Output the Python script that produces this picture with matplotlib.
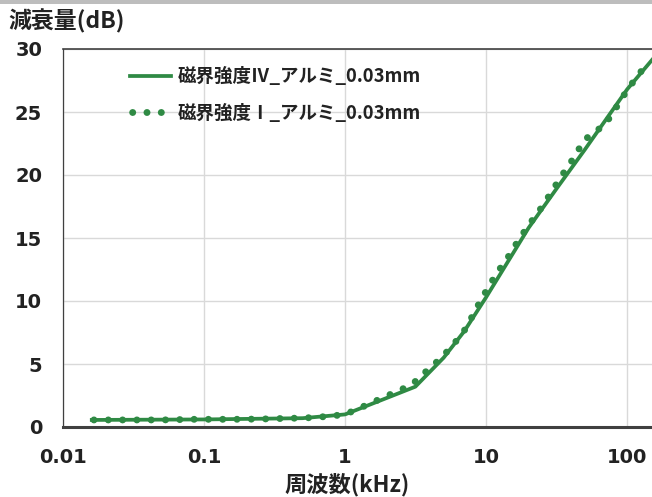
import matplotlib
matplotlib.use("Agg")
import matplotlib.pyplot as plt
from matplotlib.patches import Rectangle

# data
freq_iv = [0.016, 0.1, 0.5, 1.0, 3.15, 5.0, 7.0, 10.0, 20.0, 31.5, 50.0, 100.0, 160.0]
att_iv = [0.56, 0.6, 0.7, 1.0, 3.2, 5.5, 7.6, 10.3, 15.8, 18.9, 22.0, 26.8, 29.5]

freq_i = [0.016, 0.02, 0.025, 0.032, 0.04, 0.05, 0.063, 0.08, 0.1, 0.125, 0.16, 0.2,
          0.25, 0.315, 0.4, 0.5, 0.63, 0.8, 1.0, 1.26, 1.55, 1.92, 2.4, 2.97, 3.56,
          4.23, 4.98, 5.8, 6.76, 7.62, 8.49, 9.48, 10.7, 12.1, 13.9, 15.6, 17.7, 20.1,
          23.3, 26.5, 30.0, 34.0, 38.8, 44.0, 49.5, 60.0, 71.0, 81.0, 91.7, 104.0,
          120.0, 138.0]
att_i = [0.56, 0.56, 0.56, 0.56, 0.56, 0.56, 0.58, 0.61, 0.61, 0.61, 0.61, 0.62,
         0.63, 0.66, 0.69, 0.71, 0.77, 0.87, 1.0, 1.48, 1.93, 2.40, 2.88, 3.35, 4.18,
         4.92, 5.66, 6.51, 7.36, 8.36, 9.37, 10.34, 11.35, 12.33, 13.25, 14.18, 15.13,
         16.05, 17.0, 17.94, 18.9, 19.87, 20.8, 21.77, 22.78, 23.44, 24.15, 25.1, 26.09,
         27.0, 27.94, 28.8]

label_iv = "磁界強度Ⅳ_アルミ_0.03mm"
label_i = "磁界強度Ⅰ_アルミ_0.03mm"
x_ticks = [0.01, 0.1, 1, 10, 100]
x_ticklabels = ["0.01", "0.1", "1", "10", "100"]
y_ticks = [0, 5, 10, 15, 20, 25, 30]

green = "#2f8a44"
cjk = ["Noto Sans CJK JP", "DejaVu Sans"]

fig = plt.figure(figsize=(6.52, 4.97), dpi=100)
fig.patches.append(Rectangle((0, 1 - 4 / 497), 1, 4 / 497, transform=fig.transFigure,
                             facecolor="#bdbdbd", edgecolor="none"))
ax = fig.add_axes([63 / 652, 1 - 427 / 497, 1 - 63 / 652, (427 - 49) / 497])

ax.plot(freq_iv, att_iv, color=green, lw=2.7, label=label_iv, zorder=3)
# round-dot line; offset puts the first dot a little in from the start
ax.plot(freq_i, att_i, color=green, lw=5.0, linestyle=(1.75, (0.01, 2.05)),
        dash_capstyle="round", label=label_i, zorder=4)

ax.set_xscale("log")
ax.set_xlim(0.01, 150)
ax.set_ylim(0, 30)
ax.set_xticks(x_ticks)
ax.set_xticklabels(x_ticklabels)
ax.minorticks_off()
ax.set_yticks(y_ticks)
ax.tick_params(length=0, labelsize=14, pad=15)
for t in ax.get_xticklabels() + ax.get_yticklabels():
    t.set_fontweight("bold")
    t.set_color("#222222")

ax.grid(True, color="#d9d9d9", lw=1.0)
ax.set_axisbelow(True)
ax.spines["right"].set_visible(False)
ax.spines["left"].set_color("#404040")
ax.spines["left"].set_linewidth(0.9)
ax.spines["top"].set_color("#404040")
ax.spines["top"].set_linewidth(1.2)
ax.spines["bottom"].set_color("#404040")
ax.spines["bottom"].set_linewidth(2.2)

fig.text(8 / 652, 1 - 21 / 497, "減衰量(dB)", family=cjk, fontsize=16.5,
         fontweight="bold", ha="left", va="center", color="#222222")
fig.text(347 / 652, 1 - 485 / 497, "周波数(kHz)", family=cjk, fontsize=16,
         fontweight="bold", ha="center", va="center", color="#222222")

leg = ax.legend(loc="upper left", bbox_to_anchor=(121 / 652, 1 - 58 / 497),
                bbox_transform=fig.transFigure, frameon=False, borderpad=0,
                handlelength=2.2, handletextpad=0.35, labelspacing=0.95,
                prop={"family": cjk, "size": 13.3, "weight": "bold"})
for t in leg.get_texts():
    t.set_color("#222222")

fig.savefig("out.png", dpi=100)
